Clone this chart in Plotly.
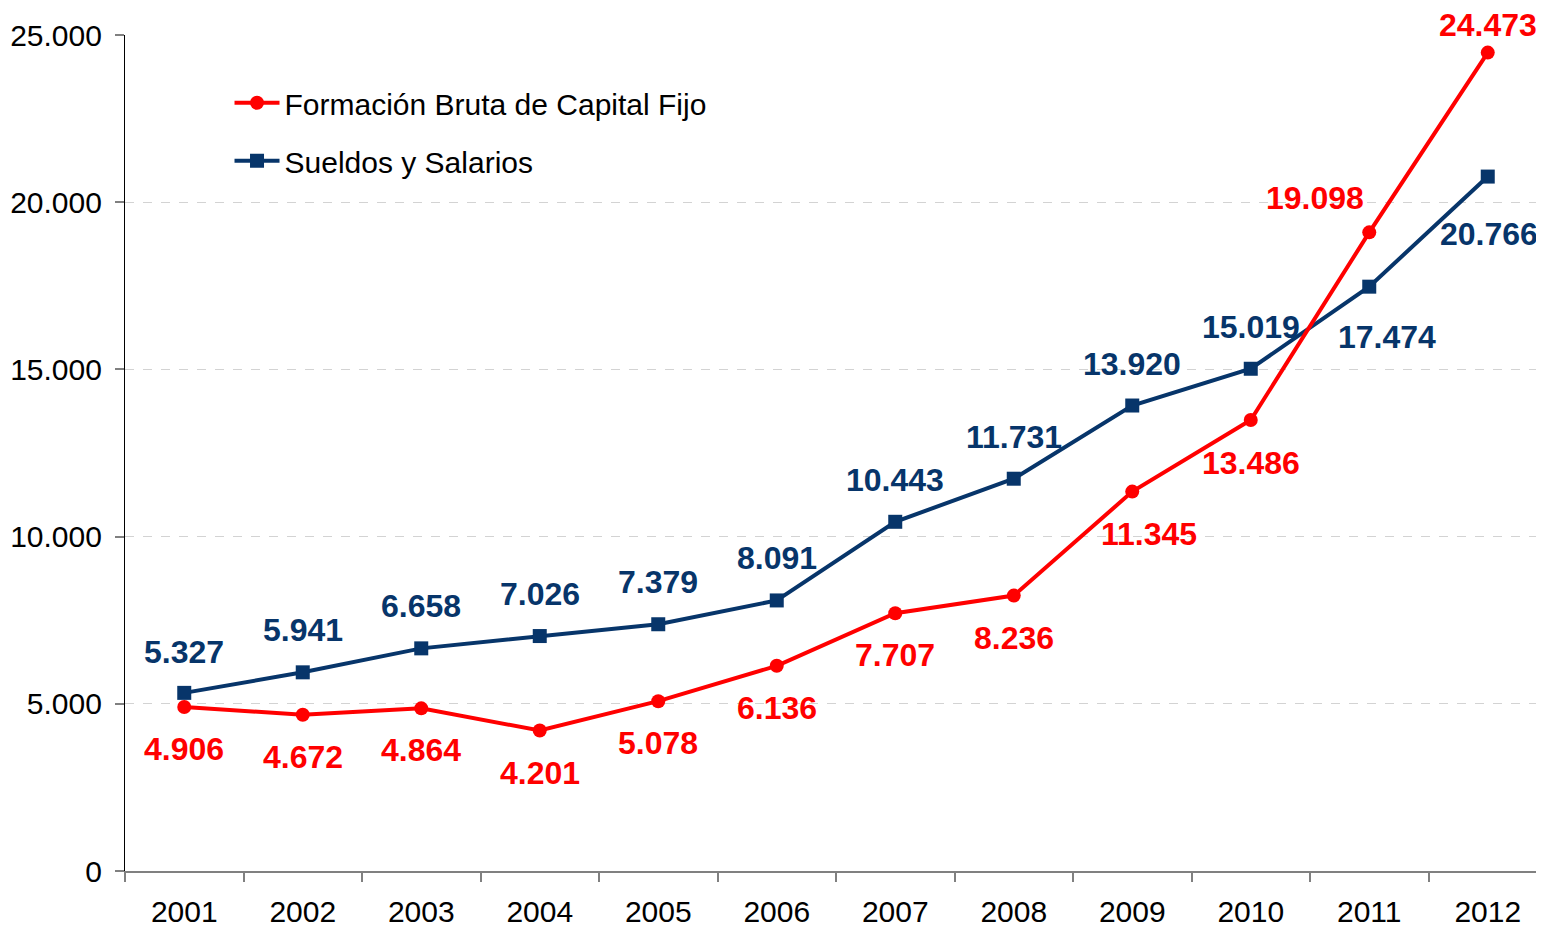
import plotly.graph_objects as go

years = [2001, 2002, 2003, 2004, 2005, 2006, 2007, 2008, 2009, 2010, 2011, 2012]
fbcf = [4906, 4672, 4864, 4201, 5078, 6136, 7707, 8236, 11345, 13486, 19098, 24473]
sueldos = [5327, 5941, 6658, 7026, 7379, 8091, 10443, 11731, 13920, 15019, 17474, 20766]
y_ticks = [0, 5000, 10000, 15000, 20000, 25000]

RED = "#FF0000"
BLUE = "#07356A"
FONT = "Liberation Sans, Arial, sans-serif"

# label offsets (pixels) relative to each point
red_dx = [0, 0, 0, 0, 0, 0, 0, 0, 17, 0, -54, 0]
red_dy = [-42, -42, -42, -42, -42, -42, -42, -42, -42, -43, 34, 28]
blue_dx = [0, 0, 0, 0, 0, 0, 0, 0, 0, 0, 18, 1]
blue_dy = [41, 42, 42, 42, 42, 42, 42, 42, 42, 42, -50, -57]


def fmt(v):
    return f"{v:,}".replace(",", ".")


fig = go.Figure()
fig.add_trace(go.Scatter(
    x=years, y=sueldos, mode="lines+markers", name="Sueldos y Salarios",
    line=dict(color=BLUE, width=4), marker=dict(symbol="square", size=14, color=BLUE),
    legendrank=2, legendgroup="b", cliponaxis=False,
))
fig.add_trace(go.Scatter(
    x=years, y=fbcf, mode="lines+markers", name="Formación Bruta de Capital Fijo",
    line=dict(color=RED, width=4), marker=dict(symbol="circle", size=14, color=RED),
    legendrank=1, legendgroup="a", cliponaxis=False,
))

for i, yr in enumerate(years):
    fig.add_annotation(x=yr, y=sueldos[i], text=fmt(sueldos[i]), showarrow=False,
                       xshift=blue_dx[i], yshift=blue_dy[i],
                       font=dict(family=FONT, size=32, color=BLUE, weight="bold"))
    fig.add_annotation(x=yr, y=fbcf[i], text=fmt(fbcf[i]), showarrow=False,
                       xshift=red_dx[i], yshift=red_dy[i],
                       font=dict(family=FONT, size=32, color=RED, weight="bold"))

fig.update_layout(
    width=1539, height=920,
    margin=dict(l=117, r=0, t=27, b=57),
    paper_bgcolor="white", plot_bgcolor="white",
    font=dict(family=FONT, size=30, color="black"),
    showlegend=True,
    legend=dict(x=0.0735, y=0.95, xanchor="left", yanchor="top",
                bgcolor="rgba(0,0,0,0)", font=dict(size=30),
                traceorder="grouped", tracegroupgap=16, itemwidth=45),
    xaxis=dict(
        range=[years[0] - 0.5, years[-1] + 0.5],
        tickmode="array", tickvals=years, ticktext=[str(y) for y in years],
        ticks="", showgrid=False, zeroline=False,
        showline=True, linecolor="#808080", linewidth=1.5,
        ticklabelstandoff=13,
        minor=dict(tickmode="array",
                   tickvals=[y - 0.5 for y in years] + [years[-1] + 0.5],
                   ticks="outside", ticklen=9, tickcolor="#808080", tickwidth=1.5,
                   showgrid=False),
    ),
    yaxis=dict(
        range=[0, 25000],
        tickmode="array", tickvals=y_ticks, ticktext=[fmt(v) for v in y_ticks],
        ticks="outside", ticklen=9, tickcolor="#808080", tickwidth=1.5,
        showline=True, linecolor="black", linewidth=1.2,
        showgrid=True, gridcolor="#D3D3D3", griddash="dash", gridwidth=1,
        zeroline=False, ticklabelstandoff=7,
    ),
)

fig.write_html("out.html")
